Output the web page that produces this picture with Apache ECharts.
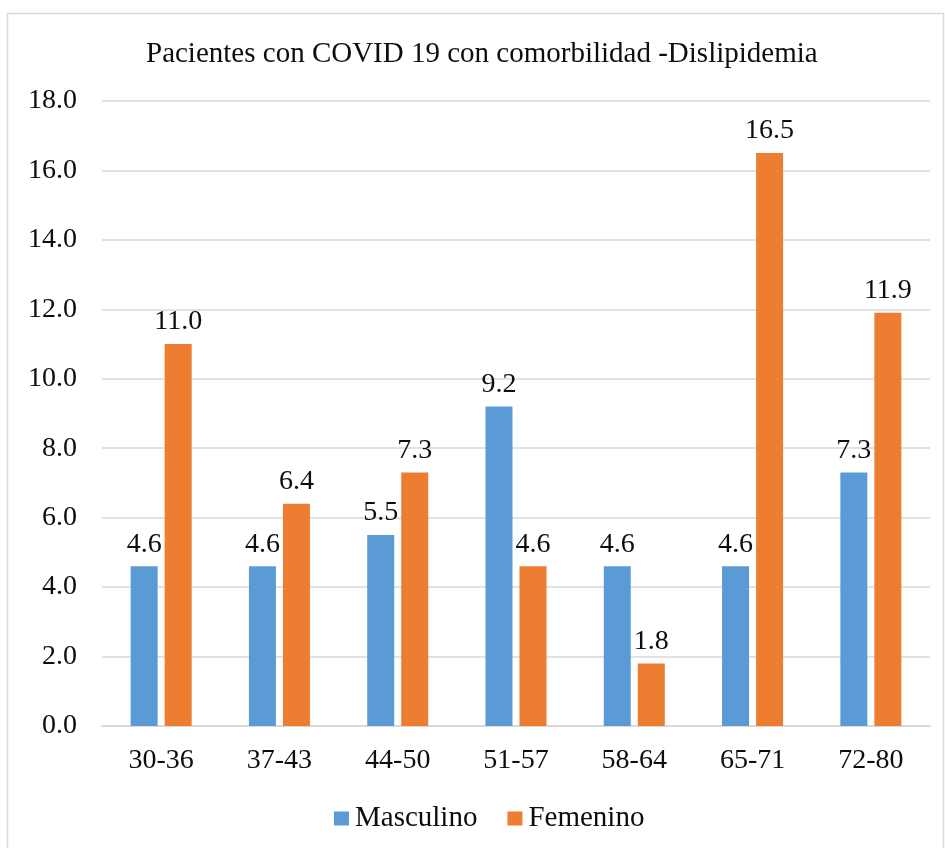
<!DOCTYPE html>
<html>
<head>
<meta charset="utf-8">
<script src="https://cdn.jsdelivr.net/npm/echarts@6/dist/echarts.min.js"></script>
<style>
  html, body { margin: 0; padding: 0; background: #fff; }
  #chart { width: 945px; height: 848px; }
</style>
</head>
<body>
<div id="chart"></div>
<script>
// Age groups and share of patients (%) per sex
const categories = ['30-36', '37-43', '44-50', '51-57', '58-64', '65-71', '72-80'];
const masculino = [4.6, 4.6, 5.5, 9.2, 4.6, 4.6, 7.3];
const femenino = [11.0, 6.4, 7.3, 4.6, 1.8, 16.5, 11.9];

const FONT = '"Liberation Serif", "Times New Roman", serif';
const TEXT = '#0d0d0d';

const chart = echarts.init(document.getElementById('chart'), null, { renderer: 'canvas' });

const labelStyle = {
  show: true,
  position: 'top',
  distance: 8,
  fontFamily: FONT,
  fontSize: 28,
  color: TEXT,
  formatter: p => p.value.toFixed(1)
};

chart.setOption({
  animation: false,
  backgroundColor: '#fff',
  graphic: [{
    type: 'rect',
    shape: { x: 7.5, y: 13.5, width: 936, height: 840 },
    style: { fill: 'none', stroke: '#d9d9d9', lineWidth: 1.5 },
    silent: true
  }],
  title: {
    text: 'Pacientes con COVID 19 con comorbilidad -Dislipidemia',
    left: 141,
    top: 35,
    textStyle: { fontFamily: FONT, fontSize: 29, fontWeight: 'normal', color: TEXT }
  },
  legend: {
    bottom: 10,
    left: 329,
    itemWidth: 15,
    itemHeight: 14,
    itemGap: 30,
    icon: 'rect',
    textStyle: { fontFamily: FONT, fontSize: 29, color: TEXT, padding: [0, 0, 0, 1] },
    data: ['Masculino', 'Femenino']
  },
  grid: { left: 102, right: 15, top: 101, bottom: 122, containLabel: false },
  xAxis: {
    type: 'category',
    data: categories,
    axisLine: { lineStyle: { color: '#d9d9d9', width: 2 } },
    axisTick: { show: false },
    axisLabel: { fontFamily: FONT, fontSize: 28, color: TEXT, margin: 21 }
  },
  yAxis: {
    type: 'value',
    min: 0,
    max: 18,
    interval: 2,
    axisLine: { show: false },
    axisTick: { show: false },
    splitLine: { lineStyle: { color: '#d9d9d9', width: 1.5 } },
    axisLabel: {
      fontFamily: FONT, fontSize: 28, color: TEXT, margin: 25,
      formatter: v => v.toFixed(1)
    }
  },
  series: [
    {
      name: 'Masculino',
      type: 'bar',
      data: masculino,
      barWidth: 27,
      barGap: '26%',
      itemStyle: { color: '#5b9bd5' },
      label: labelStyle
    },
    {
      name: 'Femenino',
      type: 'bar',
      data: femenino,
      barWidth: 27,
      itemStyle: { color: '#ed7d31' },
      label: labelStyle
    }
  ]
});
</script>
</body>
</html>
